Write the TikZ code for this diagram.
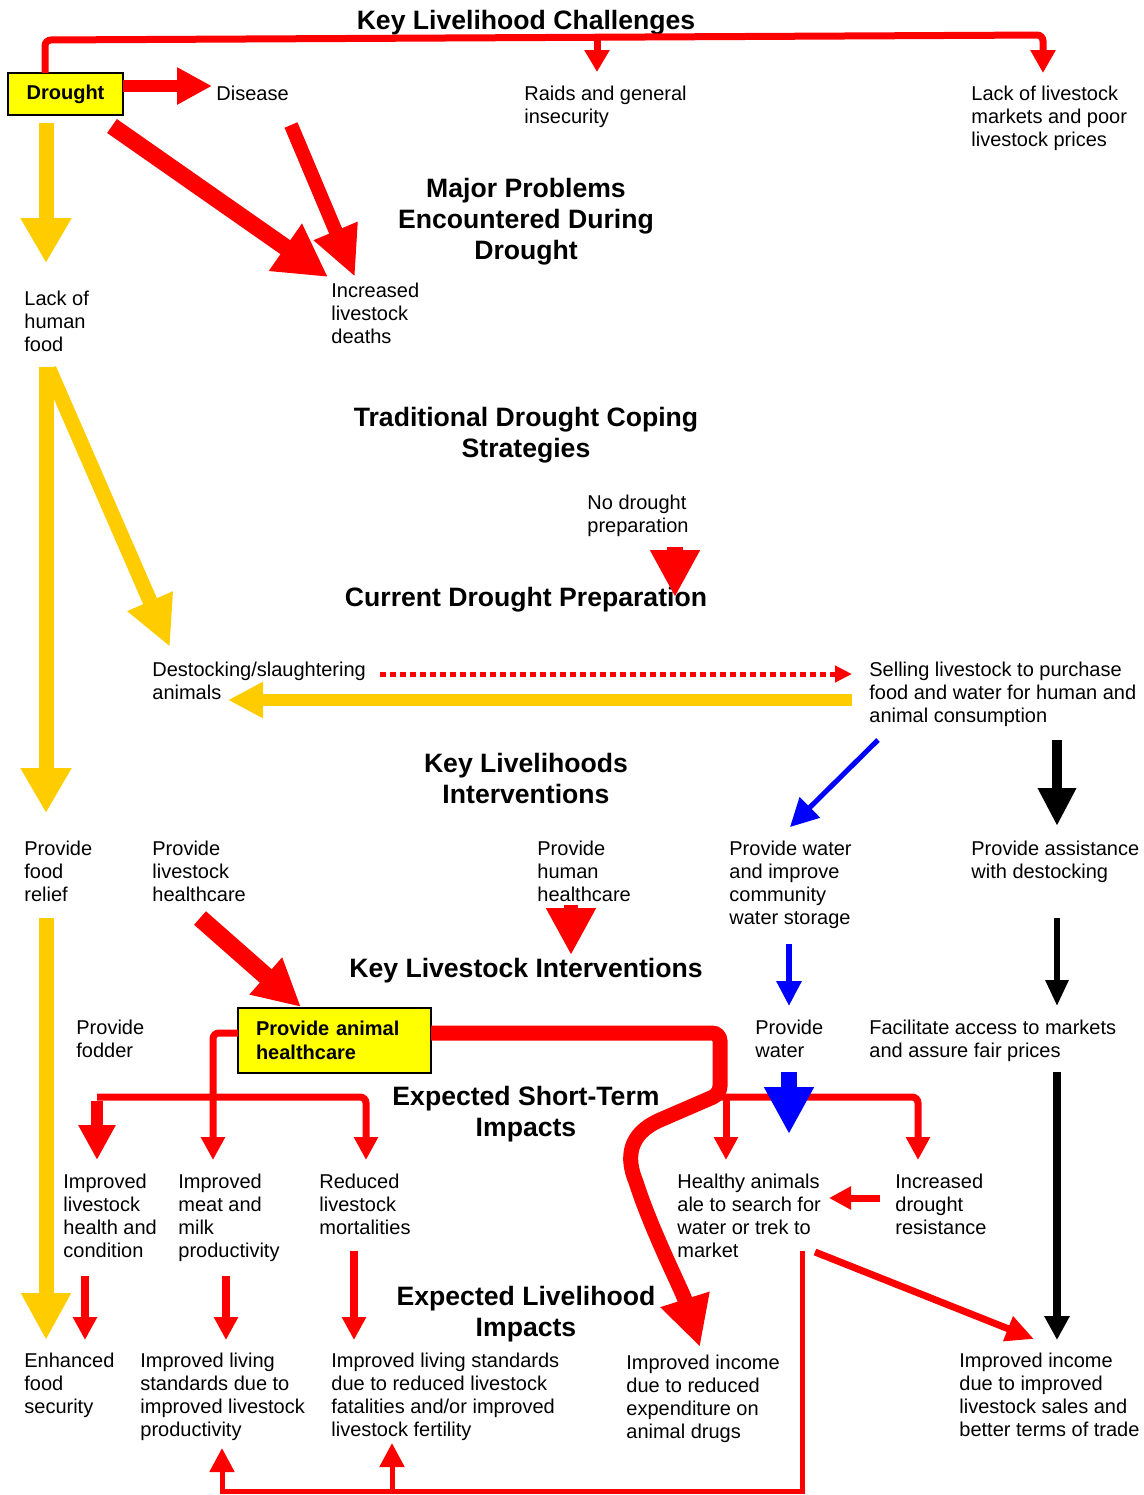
\documentclass[tikz,border=0pt]{standalone}
\usepackage{fontspec}
\setmainfont{Liberation Sans}
\usetikzlibrary{arrows.meta}
\definecolor{hred}{RGB}{255,0,0}
\definecolor{hyel}{RGB}{255,204,0}
\definecolor{hblue}{RGB}{0,0,255}
\definecolor{boxyel}{RGB}{255,255,0}

\begin{document}
\begin{tikzpicture}[x=0.5pt,y=-0.5pt,
  txt/.style={anchor=north west, inner sep=0pt, align=left, font=\fontsize{10pt}{11.5pt}\selectfont},
  ttl/.style={anchor=north, inner sep=0pt, align=center, font=\bfseries\fontsize{13.3pt}{15.5pt}\selectfont},
  ybox/.style={draw=black, line width=1pt, fill=boxyel, font=\bfseries\fontsize{10pt}{12pt}\selectfont},
  tip/.style 2 args={-{Triangle[width=#1,length=#2]}},
  redln/.style={draw=hred, hred},
  yelln/.style={draw=hyel, hyel},
  bluln/.style={draw=hblue, hblue},
  blkln/.style={draw=black, black}
]
\useasboundingbox (0,0) rectangle (1144,1495);

% ---------------- headings ----------------
\node[ttl] (t1) at (526,7.4)   {\strut Key Livelihood Challenges};
\node[ttl] (t2) at (526,175.4) {\strut Major Problems\\Encountered During\\Drought};
\node[ttl] (t3) at (526,404.4) {\strut Traditional Drought Coping\\Strategies};
\node[ttl] (t4) at (526,584.4) {\strut Current Drought Preparation};
\node[ttl] (t5) at (526,750.4) {\strut Key Livelihoods\\Interventions};
\node[ttl] (t6) at (526,955.4) {\strut Key Livestock Interventions};
\node[ttl] (t7) at (526,1083.4){\strut Expected Short-Term\\Impacts};
\node[ttl] (t8) at (526,1283.4){\strut Expected Livelihood\\Impacts};

% ---------------- boxes ----------------
\node[ybox, minimum width=57.5pt, minimum height=21pt, inner sep=0pt] (drought) at (65.5,94) {Drought};
\node[ybox, minimum width=96.5pt, minimum height=32.5pt, text width=78.5pt,
      inner xsep=9pt, inner ysep=0pt, align=left] (ahc) at (334.5,1040.5) {Provide animal\\healthcare};

% ---------------- labels ----------------
\node[txt] (disease)  at (216,84)   {\strut Disease};
\node[txt] (raids)    at (524,84)   {\strut Raids and general\\insecurity};
\node[txt] (markets)  at (971,84)   {\strut Lack of livestock\\markets and poor\\livestock prices};
\node[txt] (food)     at (24,289)   {\strut Lack of\\human\\food};
\node[txt] (deaths)   at (331,281)  {\strut Increased\\livestock\\deaths};
\node[txt] (noprep)   at (587,493)  {\strut No drought\\preparation};
\node[txt] (destock)  at (152,660)  {\strut Destocking/slaughtering\\animals};
\node[txt] (selling)  at (869,660)  {\strut Selling livestock to purchase\\food and water for human and\\animal consumption};
\node[txt] (relief)   at (24,839)   {\strut Provide\\food\\relief};
\node[txt] (lshc)     at (152,839)  {\strut Provide\\livestock\\healthcare};
\node[txt] (hhc)      at (537,839)  {\strut Provide\\human\\healthcare};
\node[txt] (wstore)   at (729,839)  {\strut Provide water\\and improve\\community\\water storage};
\node[txt] (assist)   at (971,839)  {\strut Provide assistance\\with destocking};
\node[txt] (fodder)   at (76,1018)  {\strut Provide\\fodder};
\node[txt] (water)    at (755,1018) {\strut Provide\\water};
\node[txt] (access)   at (869,1018) {\strut Facilitate access to markets\\and assure fair prices};
\node[txt] (health)   at (63,1172)  {\strut Improved\\livestock\\health and\\condition};
\node[txt] (meat)     at (178,1172) {\strut Improved\\meat and\\milk\\productivity};
\node[txt] (mort)     at (319,1172) {\strut Reduced\\livestock\\mortalities};
\node[txt] (healthy)  at (677,1172) {\strut Healthy animals\\ale to search for\\water or trek to\\market};
\node[txt] (resist)   at (895,1172) {\strut Increased\\drought\\resistance};
\node[txt] (secure)   at (24,1351)  {\strut Enhanced\\food\\security};
\node[txt] (livprod)  at (140,1351) {\strut Improved living\\standards due to\\improved livestock\\productivity};
\node[txt] (livfert)  at (331,1351) {\strut Improved living standards\\due to reduced livestock\\fatalities and/or improved\\livestock fertility};
\node[txt] (incdrug)  at (626,1353) {\strut Improved income\\due to reduced\\expenditure on\\animal drugs};
\node[txt] (inctrade) at (959,1351) {\strut Improved income\\due to improved\\livestock sales and\\better terms of trade};

% ---------------- connector end points ----------------
\coordinate (drTop)    at (45,73);
\coordinate (topL)     at (45,40);
\coordinate (topR)     at (1043,35);
\coordinate (mkTip)    at (1043,73);
\coordinate (rdTop)    at (597,37);
\coordinate (rdTip)    at (597,72);
\coordinate (drE)      at (123,86);
\coordinate (disTip)   at (212,86);
\coordinate (drSE)     at (112,126);
\coordinate (dthTipA)  at (328,277);
\coordinate (disS)     at (291,125);
\coordinate (dthTipB)  at (355,277);
\coordinate (drS)      at (46,123);
\coordinate (foodTip)  at (46,263);
\coordinate (foodS)    at (46,367);
\coordinate (foodSd)   at (49,369);
\coordinate (reliefTip)at (46,813);
\coordinate (dstTip)   at (170,647);
\coordinate (dotS)     at (380,674);
\coordinate (dotTip)   at (852,674);
\coordinate (sellW)    at (852,700);
\coordinate (dstTipB)  at (228,700);
\coordinate (npS)      at (675,547);
\coordinate (npTip)    at (675,597);
\coordinate (sellSW)   at (878,740);
\coordinate (wsTip)    at (790,827);
\coordinate (sellSE)   at (1057,740);
\coordinate (asTip)    at (1057,826);
\coordinate (reliefS)  at (46,918);
\coordinate (secTip)   at (46,1340);
\coordinate (lshcS)    at (200,918);
\coordinate (ahcTip)   at (301,1007);
\coordinate (hhcS)     at (571,905);
\coordinate (hhcTip)   at (571,955);
\coordinate (wsS)      at (789,944);
\coordinate (wTip)     at (789,1006);
\coordinate (asS)      at (1057,918);
\coordinate (acTip)    at (1057,1006);
\coordinate (wS)       at (789,1072);
\coordinate (wTipB)    at (789,1134);
\coordinate (acS)      at (1057,1072);
\coordinate (itTipB)   at (1057,1340);
\coordinate (ahcE)     at (431,1033);
\coordinate (bendR)    at (720,1033);
\coordinate (bendD)    at (720,1094);
\coordinate (idTip)    at (700,1347);
\coordinate (ahcW)     at (238,1033);
\coordinate (bendL)    at (213,1033);
\coordinate (meatTip)  at (213,1160);
\coordinate (hlTop)    at (97,1097);
\coordinate (hlTip)    at (97,1160);
\coordinate (mtTop)    at (366,1097);
\coordinate (mtTip)    at (366,1160);
\coordinate (rhL)      at (720,1097);
\coordinate (rhR)      at (918,1097);
\coordinate (rsTip)    at (918,1160);
\coordinate (hyTop)    at (726,1097);
\coordinate (hyTip)    at (726,1160);
\coordinate (rsW)      at (880,1198);
\coordinate (hyE)      at (829,1198);
\coordinate (hySE)     at (815,1252);
\coordinate (itTip)    at (1034,1339);
\coordinate (fbTop)    at (802,1251);
\coordinate (fbBR)     at (802,1491);
\coordinate (fbBL)     at (222,1491);
\coordinate (lpTip)    at (222,1448);
\coordinate (fbMid)    at (392,1491);
\coordinate (lfTip)    at (392,1443);
\coordinate (hS)       at (85,1276);
\coordinate (hTip)     at (85,1340);
\coordinate (mS)       at (226,1276);
\coordinate (mTip)     at (226,1340);
\coordinate (rS)       at (354,1251);
\coordinate (rTip)     at (354,1340);

% ---------------- red connectors ----------------
\draw[redln, line width=3.5pt, rounded corners=3pt, tip={12pt}{11.5pt}]
  (drTop) -- (topL) -- (topR) -- (mkTip);
\draw[redln, line width=3.5pt, tip={12pt}{11pt}] (rdTop) -- (rdTip);
\draw[redln, line width=6pt, tip={17.5pt}{17.5pt}] (drE) -- (disTip);
\draw[redln, line width=8.5pt, tip={27pt}{26pt}] (drSE) -- (dthTipA);
\draw[redln, line width=7pt, tip={22pt}{25pt}] (disS) -- (dthTipB);
\draw[redln, line width=2.5pt, dash pattern=on 3pt off 2pt, tip={8pt}{8.5pt}] (dotS) -- (dotTip);
\draw[redln, line width=8pt, tip={23.5pt}{23.5pt}] (npS) -- (npTip);
\draw[redln, line width=9pt, tip={23pt}{23.5pt}] (lshcS) -- (ahcTip);
\draw[redln, line width=7pt, tip={23.5pt}{23.5pt}] (hhcS) -- (hhcTip);

% animal healthcare outcomes
\draw[redln, line width=3.5pt, rounded corners=3pt, tip={11.5pt}{11.5pt}]
  (ahcW) -- (bendL) -- (meatTip);
\draw[redln, line width=3.5pt, rounded corners=3pt, tip={11.5pt}{11.5pt}]
  (hlTop) -- (mtTop) -- (mtTip);
\draw[redln, line width=6pt, tip={17.5pt}{17.5pt}] ([yshift=-1.75pt]hlTop) -- (hlTip);
\draw[redln, line width=3.5pt, rounded corners=3pt, tip={11.5pt}{11.5pt}]
  (rhL) -- (rhR) -- (rsTip);
\draw[redln, line width=3.5pt, tip={11.5pt}{11.5pt}] (hyTop) -- (hyTip);
\draw[redln, line width=7.5pt, rounded corners=4pt, tip={24pt}{25pt}]
  (ahcE) -- (bendR) -- (bendD) [sharp corners] -- (660,1120)
  .. controls (628,1134) and (626,1158) .. (636,1182)
  .. controls (652,1232) and (682,1290) .. (idTip);
\draw[redln, line width=3.5pt, tip={11pt}{11pt}] (rsW) -- (hyE);
\draw[redln, line width=3.5pt, tip={12.5pt}{14pt}] (hySE) -- (itTip);
\draw[redln, line width=2.5pt, tip={12pt}{12pt}] (fbTop) -- (fbBR) -- (fbBL) -- (lpTip);
\draw[redln, line width=2.5pt, tip={12pt}{12pt}] (fbMid) -- (lfTip);
\draw[redln, line width=4pt, tip={11.5pt}{11.5pt}] (hS) -- (hTip);
\draw[redln, line width=4pt, tip={11.5pt}{11.5pt}] (mS) -- (mTip);
\draw[redln, line width=4pt, tip={11.5pt}{11.5pt}] (rS) -- (rTip);

% ---------------- yellow connectors ----------------
\draw[yelln, line width=7.5pt, tip={24pt}{22.5pt}] (drS) -- (foodTip);
\draw[yelln, line width=7.5pt, tip={24pt}{22.5pt}] (foodS) -- (reliefTip);
\draw[yelln, line width=7.5pt, tip={23pt}{25pt}] (foodSd) -- (dstTip);
\draw[yelln, line width=6pt, tip={17pt}{17.5pt}] (sellW) -- (dstTipB);
\draw[yelln, line width=7.5pt, tip={23.5pt}{23.5pt}] (reliefS) -- (secTip);

% ---------------- blue connectors ----------------
\draw[bluln, line width=2.5pt, tip={14pt}{14pt}] (sellSW) -- (wsTip);
\draw[bluln, line width=3pt, tip={12pt}{12.5pt}] (wsS) -- (wTip);
\draw[bluln, line width=8pt, tip={23.5pt}{23.5pt}] (wS) -- (wTipB);

% ---------------- black connectors ----------------
\draw[blkln, line width=5pt, tip={18pt}{19pt}] (sellSE) -- (asTip);
\draw[blkln, line width=3pt, tip={11pt}{13pt}] (asS) -- (acTip);
\draw[blkln, line width=4pt, tip={12pt}{12pt}] (acS) -- (itTipB);
\end{tikzpicture}
\end{document}
